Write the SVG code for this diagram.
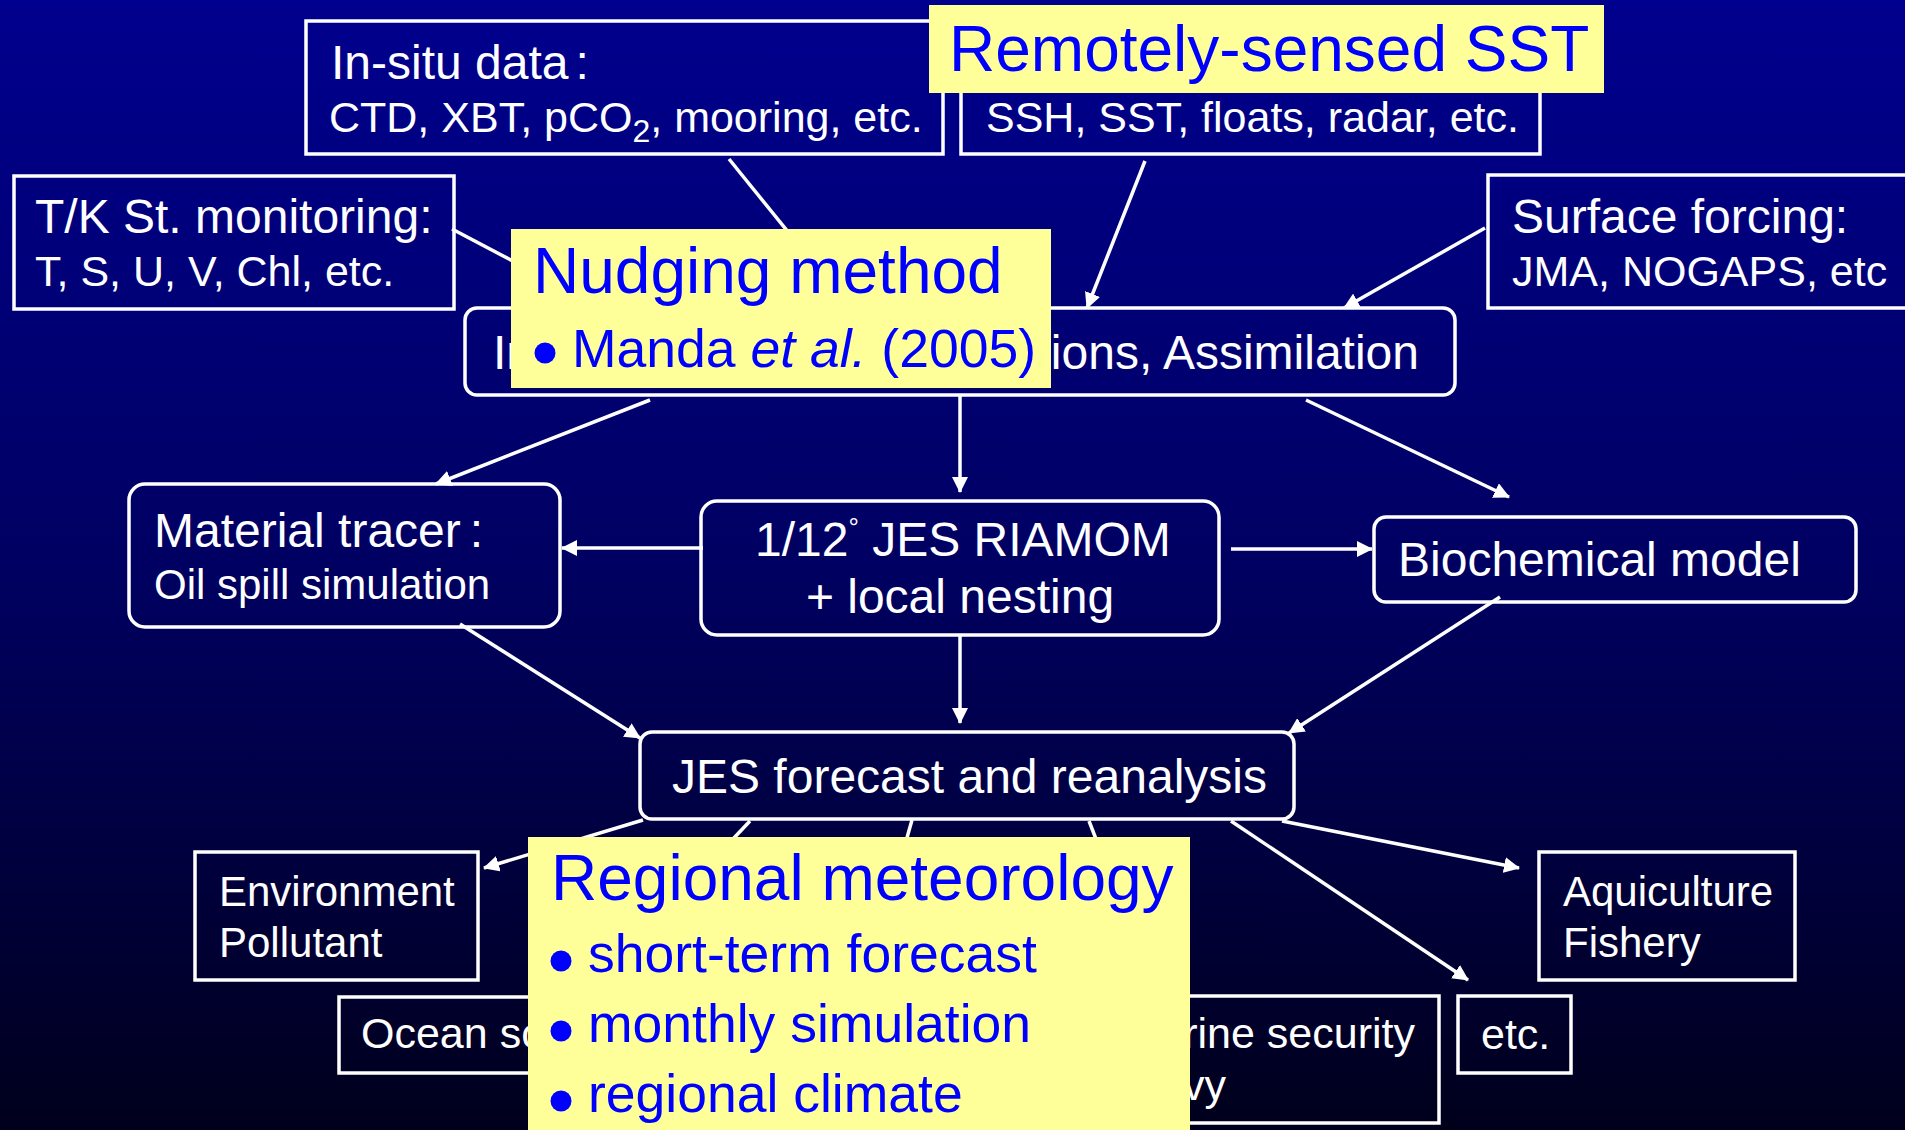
<svg xmlns="http://www.w3.org/2000/svg" width="1905" height="1130" viewBox="0 0 1905 1130">
<defs>
<linearGradient id="bg" x1="0" y1="0" x2="0" y2="1">
<stop offset="0" stop-color="#00008E"/>
<stop offset="0.5" stop-color="#000062"/>
<stop offset="1" stop-color="#00001C"/>
</linearGradient>
<marker id="arr" viewBox="0 0 16 16" refX="15" refY="8" markerWidth="16" markerHeight="16" markerUnits="userSpaceOnUse" orient="auto">
<path d="M0,0 L16,8 L0,16 z" fill="#fff"/>
</marker>
<style>
.box{fill:none;stroke:#fff;stroke-width:3.5}
.t{font-family:"Liberation Sans",Arial,sans-serif;fill:#fff}
.big{font-size:48px}
.sm{font-size:43px}
.sm2{font-size:42px}
.call{fill:#FFFF99}
.ct{font-family:"Liberation Sans",Arial,sans-serif;fill:#0000FF}
.h{font-size:64px}
.b{font-size:53.5px}
.dot{fill:#0000FF}
.con line{stroke:#fff;stroke-width:3.5;marker-end:url(#arr)}
.con line.nm{marker-end:none}
</style>
</defs>
<rect x="0" y="0" width="1905" height="1130" fill="url(#bg)"/>

<g id="insitu">
<rect class="box" x="306" y="21" width="637" height="133"/>
<text class="t big" x="331" y="79">In-situ data<tspan dx="7">:</tspan></text>
<text class="t sm" x="329" y="132">CTD, XBT, pCO<tspan font-size="32" dy="10">2</tspan><tspan dy="-10">, mooring, etc.</tspan></text>
</g>
<g id="remote">
<rect class="box" x="961" y="21" width="579" height="133"/>
<text class="t sm" x="986" y="132">SSH, SST, floats, radar, etc.</text>
</g>
<g id="tk">
<rect class="box" x="14" y="176" width="440" height="133"/>
<text class="t big" x="35" y="233">T/K St. monitoring:</text>
<text class="t sm" x="35" y="286">T, S, U, V, Chl, etc.</text>
</g>
<g id="surface">
<rect class="box" x="1488" y="175" width="440" height="133"/>
<text class="t big" x="1512" y="233">Surface forcing:</text>
<text class="t sm" x="1512" y="286">JMA, NOGAPS, etc</text>
</g>
<g id="initial">
<rect class="box" x="465" y="308" width="990" height="87" rx="12"/>
<text class="t big" x="493" y="369">In</text>
<text class="t big" x="1419" y="369" text-anchor="end">ions, Assimilation</text>
</g>
<g id="material">
<rect class="box" x="129" y="484" width="431" height="143" rx="16"/>
<text class="t big" x="154" y="547">Material tracer<tspan dx="9">:</tspan></text>
<text class="t sm2" x="154" y="599">Oil spill simulation</text>
</g>
<g id="riamom">
<rect class="box" x="701" y="501" width="518" height="134" rx="16"/>
<text class="t big" x="755" y="556">1/12<tspan font-size="26" dy="-20">°</tspan><tspan dy="20"> JES RIAMOM</tspan></text>
<text class="t big" x="960" y="613" text-anchor="middle">+ local nesting</text>
</g>
<g id="biochem">
<rect class="box" x="1374" y="517" width="482" height="85" rx="12"/>
<text class="t big" x="1398" y="576">Biochemical model</text>
</g>
<g id="forecast">
<rect class="box" x="640" y="732" width="654" height="87" rx="12"/>
<text class="t big" x="672" y="793">JES forecast and reanalysis</text>
</g>
<g id="environment">
<rect class="box" x="195" y="852" width="283" height="128"/>
<text class="t sm2" x="219" y="906">Environment</text>
<text class="t sm2" x="219" y="957">Pollutant</text>
</g>
<g id="ocean">
<rect class="box" x="339" y="997" width="300" height="76"/>
<text class="t sm" x="361" y="1048">Ocean sc</text>
</g>
<g id="marine">
<rect class="box" x="1105" y="996" width="334" height="127"/>
<text class="t sm" x="1415" y="1048" text-anchor="end">rine security</text>
<text class="t sm" x="1226" y="1100" text-anchor="end">vy</text>
</g>
<g id="etc">
<rect class="box" x="1458" y="996" width="113" height="77"/>
<text class="t sm" x="1481" y="1049">etc.</text>
</g>
<g id="aquiculture">
<rect class="box" x="1539" y="852" width="256" height="128"/>
<text class="t sm2" x="1563" y="906">Aquiculture</text>
<text class="t sm2" x="1563" y="957">Fishery</text>
</g>

<g id="connectors" class="con">
<line x1="729" y1="159" x2="848" y2="306"/>
<line x1="452" y1="229" x2="600" y2="307" class="nm"/>
<line x1="1145" y1="161" x2="1087" y2="308"/>
<line x1="1485" y1="228" x2="1344" y2="308"/>
<line x1="650" y1="400" x2="436" y2="484"/>
<line x1="960" y1="396" x2="960" y2="492"/>
<line x1="1306" y1="400" x2="1509" y2="497"/>
<line x1="703" y1="548" x2="562" y2="548"/>
<line x1="1231" y1="549" x2="1372" y2="549"/>
<line x1="960" y1="636" x2="960" y2="723"/>
<line x1="460" y1="624" x2="640" y2="738"/>
<line x1="1500" y1="597" x2="1289" y2="733"/>
<line x1="643" y1="820" x2="484" y2="868"/>
<line x1="750" y1="821" x2="680" y2="895" class="nm"/>
<line x1="912" y1="820" x2="895" y2="880" class="nm"/>
<line x1="1089" y1="821" x2="1110" y2="875" class="nm"/>
<line x1="1231" y1="821" x2="1468" y2="980"/>
<line x1="1282" y1="821" x2="1519" y2="868"/>
</g>

<g id="remotely-sensed-sst">
<rect class="call" x="929" y="5" width="675" height="88"/>
<text class="ct h" x="949" y="71">Remotely-sensed SST</text>
</g>
<g id="nudging-method">
<rect class="call" x="511" y="229" width="540" height="159"/>
<text class="ct h" x="533" y="293">Nudging method</text>
<circle class="dot" cx="545" cy="353" r="10.5"/>
<text class="ct b" x="572" y="367">Manda <tspan font-style="italic">et al.</tspan> (2005)</text>
</g>
<g id="regional-meteorology">
<rect class="call" x="528" y="837" width="662" height="300"/>
<text class="ct h" x="551" y="900">Regional meteorology</text>
<circle class="dot" cx="561" cy="961" r="10.5"/>
<text class="ct b" x="588" y="972">short-term forecast</text>
<circle class="dot" cx="561" cy="1031" r="10.5"/>
<text class="ct b" x="588" y="1042">monthly simulation</text>
<circle class="dot" cx="561" cy="1101" r="10.5"/>
<text class="ct b" x="588" y="1112">regional climate</text>
</g>
</svg>
